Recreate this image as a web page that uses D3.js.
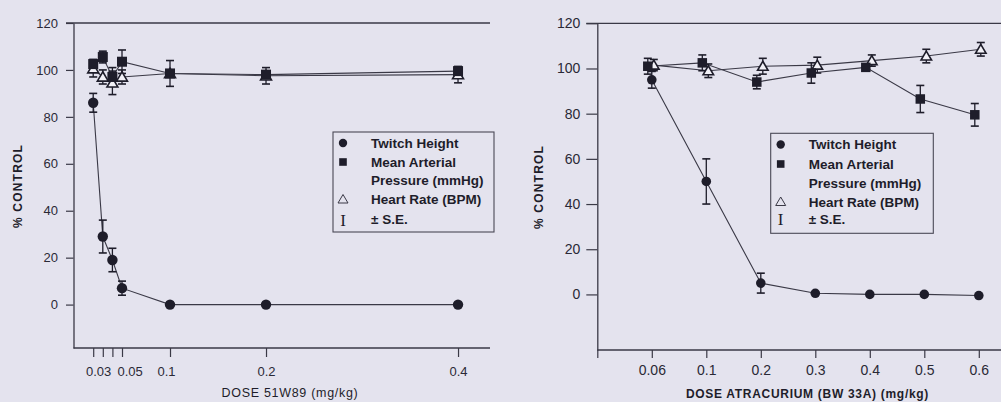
<!DOCTYPE html>
<html><head><meta charset="utf-8">
<script src="https://cdn.jsdelivr.net/npm/d3@7/dist/d3.min.js"></script>
<style>
html,body{margin:0;padding:0;background:#e4e3ee;}
svg{display:block;font-family:"Liberation Sans",Arial,sans-serif;}
</style></head>
<body>
<svg id="c" width="1001" height="402"></svg>
<script>
// ---------- data ----------
const yTicks = [0, 20, 40, 60, 80, 100, 120];

// left panel: 51W89
const dosesL = [0.02, 0.03, 0.04, 0.05, 0.1, 0.2, 0.4];
const twitchL = [86, 29, 19, 7, 0, 0, 0];
const twitchSeL = [4, 7, 5, 3, 0, 0, 0];
const mapL = [102.5, 105.5, 97, 103.5, 98.5, 98, 99.5];
const mapSeL = [2, 2.5, 4, 5, 1, 1, 1];
const hrL = [100.5, 97, 94.5, 97, 98.5, 97.5, 98];
const hrSeL = [3.5, 3, 5, 3, 5.5, 3.5, 3.5];
const xTicksL = [0.02, 0.03, 0.04, 0.05, 0.1, 0.2, 0.4];
const xLabelsL = ["", "0.03", "", "0.05", "0.1", "0.2", "0.4"];

// right panel: atracurium
const dosesR = ["0.06", "0.1", "0.2", "0.3", "0.4", "0.5", "0.6"];
const twitchR = [95, 50, 5, 0.5, 0, 0, -0.5];
const twitchSeR = [3.7, 10, 4.4, 0, 0, 0, 0];
const mapR = [101, 102.5, 94, 98, 100.5, 86.5, 79.5];
const mapSeR = [3.5, 3.5, 3, 4.5, 0, 6, 5];
const hrR = [101.5, 99, 101, 101.5, 103.5, 105.5, 108.5];
const hrSeR = [2.5, 3, 3.5, 3.5, 2.5, 3, 3];

const legendLabels = [["Twitch Height"], ["Mean Arterial", "Pressure (mmHg)"], ["Heart Rate (BPM)"], ["\u00B1 S.E."]];
const yTitle = "% CONTROL";
const xTitleL = "DOSE 51W89 (mg/kg)";
const xTitleR = "DOSE ATRACURIUM (BW 33A) (mg/kg)";

// ---------- drawing ----------
const ink = "#1e1d2a", lineCol = "#3a3946", bg = "#e4e3ee", triFill = "#f2f1f7";
const svg = d3.select("#c");
svg.append("rect").attr("width", 1001).attr("height", 402).attr("fill", bg);

function tri(g, x, y, s, sw) {
  g.append("path")
    .attr("d", `M${x},${y - s} L${x + s * 1.05},${y + s * 0.8} L${x - s * 1.05},${y + s * 0.8} Z`)
    .attr("fill", triFill).attr("stroke", ink).attr("stroke-width", sw);
}
function errBar(g, x, y0, y1, cap) {
  g.append("line").attr("x1", x).attr("x2", x).attr("y1", y0).attr("y2", y1).attr("stroke", ink).attr("stroke-width", 1.3);
  [y0, y1].forEach(yy => g.append("line").attr("x1", x - cap).attr("x2", x + cap).attr("y1", yy).attr("y2", yy).attr("stroke", ink).attr("stroke-width", 1.6));
}

function panel(opt) {
  const g = svg.append("g");
  const { x, y, xs, n, vals, ses, dx, axisX, topY, rightX, bottomY } = opt;

  // y axis
  const ya = g.append("g").attr("transform", `translate(${axisX},0)`)
    .call(d3.axisLeft(y).tickValues(yTicks).tickSizeInner(opt.yTick).tickSizeOuter(0).tickPadding(opt.yPad));
  ya.select(".domain").attr("stroke", lineCol).attr("stroke-width", 1.3);
  ya.selectAll(".tick line").attr("stroke", lineCol).attr("stroke-width", 1.2);
  ya.selectAll("text").attr("fill", "#2a2936").attr("font-size", opt.yFs + "px").attr("font-family", "Liberation Sans, Arial");
  // frame top line and bottom axis line
  g.append("line").attr("x1", axisX - opt.yTick).attr("x2", rightX).attr("y1", topY).attr("y2", topY).attr("stroke", lineCol).attr("stroke-width", 1.3);
  g.append("line").attr("x1", axisX).attr("x2", rightX).attr("y1", bottomY).attr("y2", bottomY).attr("stroke", lineCol).attr("stroke-width", 1.3);
  // x axis
  const xa = g.append("g").attr("transform", `translate(0,${bottomY})`).call(opt.xAxis);
  xa.select(".domain").remove();
  xa.selectAll(".tick line").attr("stroke", lineCol).attr("stroke-width", 1.2);
  xa.selectAll("text").attr("fill", "#2a2936").attr("font-size", opt.xFs + "px").attr("font-family", "Liberation Sans, Arial");
  if (opt.xLabelFix) opt.xLabelFix(xa);

  // series lines
  const keys = ["tw", "map", "hr"];
  keys.forEach(k => {
    const line = d3.line().x((d, i) => xs(i) + dx[k]).y(d => y(d));
    g.append("path").datum(vals[k]).attr("d", line).attr("fill", "none").attr("stroke", lineCol).attr("stroke-width", 1.1);
  });
  // error bars
  keys.forEach(k => {
    vals[k].forEach((v, i) => {
      const s = ses[k][i];
      if (s > 0) errBar(g, xs(i) + dx[k], y(v + s), y(v - s), opt.cap);
    });
  });
  // markers
  vals.hr.forEach((v, i) => tri(g, xs(i) + dx.hr, y(v), opt.tri, 1.6));
  vals.map.forEach((v, i) => g.append("rect").attr("x", xs(i) + dx.map - opt.sq / 2).attr("y", y(v) - opt.sq / 2)
    .attr("width", opt.sq).attr("height", opt.sq).attr("fill", ink));
  vals.tw.forEach((v, i) => g.append("circle").attr("cx", xs(i) + dx.tw).attr("cy", y(v)).attr("r", opt.r).attr("fill", ink));

  // legend
  const L = opt.legend;
  g.append("rect").attr("x", L.x).attr("y", L.y).attr("width", L.w).attr("height", L.h)
    .attr("fill", "none").attr("stroke", "#4a4956").attr("stroke-width", 1.1);
  const rows = L.rows;
  const sx = L.x + 10, tx = L.x + 38;
  g.append("circle").attr("cx", sx).attr("cy", rows[0]).attr("r", 4.2).attr("fill", ink);
  g.append("rect").attr("x", sx - 3.8).attr("y", rows[1] - 3.8).attr("width", 7.6).attr("height", 7.6).attr("fill", ink);
  g.append("path").attr("d", `M${sx},${rows[3] - 5} L${sx + 5},${rows[3] + 3.5} L${sx - 5},${rows[3] + 3.5} Z`)
    .attr("fill", "none").attr("stroke", "#3a3946").attr("stroke-width", 1);
  g.append("text").attr("x", sx).attr("y", rows[4]).attr("dy", "0.36em").attr("text-anchor", "middle")
    .attr("font-family", "Liberation Serif, Times New Roman, serif").attr("font-size", "17px").attr("fill", ink).text("I");
  const labRows = [[rows[0]], [rows[1], rows[2]], [rows[3]], [rows[4]]];
  legendLabels.forEach((lines, j) => {
    lines.forEach((t, m) => {
      g.append("text").attr("x", tx).attr("y", labRows[j][m]).attr("dy", "0.36em")
        .attr("font-size", "13.5px").attr("font-weight", "bold").attr("fill", ink).text(t);
    });
  });

  // titles
  g.append("text").attr("transform", `translate(${opt.yTitleX},${opt.yTitleY}) rotate(-90)`)
    .attr("text-anchor", "middle").attr("dy", "0.36em").attr("font-size", "12px").attr("font-weight", "bold")
    .attr("letter-spacing", "1.2px").attr("fill", ink).text(yTitle);
  g.append("text").attr("x", opt.xTitleX).attr("y", opt.xTitleY).attr("text-anchor", "middle")
    .attr("font-size", opt.xTitleFs + "px").attr("font-weight", opt.xTitleW).attr("letter-spacing", "0.7px")
    .attr("fill", ink).text(opt.xTitle);
}

// left panel scales
const xL = d3.scaleLinear().domain([0, 0.4333]).range([74, 490]);
const yL = d3.scaleLinear().domain([-18.5, 120]).range([348, 23]);
panel({
  x: xL, y: yL, xs: i => xL(dosesL[i]), n: dosesL.length,
  vals: { tw: twitchL, map: mapL, hr: hrL }, ses: { tw: twitchSeL, map: mapSeL, hr: hrSeL },
  dx: { tw: 0, map: 0, hr: 0 },
  axisX: 73.5, topY: 23, rightX: 490, bottomY: 348,
  yTick: 7.5, yPad: 8, yFs: 13, xFs: 13,
  xAxis: d3.axisBottom(xL).tickValues(xTicksL).tickSize(9).tickPadding(10)
    .tickFormat((d, i) => xLabelsL[i]),
  xLabelFix: xa => {
    xa.selectAll(".tick text").each(function (d) {
      if (d === 0.03) d3.select(this).attr("text-anchor", "end").attr("x", 8);
      if (d === 0.05) d3.select(this).attr("text-anchor", "start").attr("x", -5);
      if (d === 0.1) d3.select(this).attr("x", -4);
    });
  },
  cap: 4, r: 5.2, sq: 10, tri: 5.2,
  legend: { x: 333, y: 132, w: 161, h: 100, rows: [143, 162, 180.5, 199.5, 219.5] },
  yTitleX: 18, yTitleY: 186, xTitle: xTitleL, xTitleX: 290, xTitleY: 397, xTitleFs: 12.5, xTitleW: "normal"
});

// right panel scales
const xR = d3.scalePoint().domain([""].concat(dosesR)).range([597.3, 597.3 + 7 * 54.5]);
const yR = d3.scaleLinear().domain([-24.6, 120]).range([350, 23.3]);
panel({
  x: xR, y: yR, xs: i => xR(dosesR[i]), n: dosesR.length,
  vals: { tw: twitchR, map: mapR, hr: hrR }, ses: { tw: twitchSeR, map: mapSeR, hr: hrSeR },
  dx: { tw: 0, map: -4, hr: 2 },
  axisX: 597.3, topY: 23.3, rightX: 1001, bottomY: 350,
  yTick: 11, yPad: 6, yFs: 14, xFs: 14,
  xAxis: d3.axisBottom(xR).tickSize(8).tickPadding(7),
  cap: 4, r: 4.8, sq: 9.5, tri: 5,
  legend: { x: 770.7, y: 133.3, w: 162.6, h: 100, rows: [144.5, 164, 183, 202, 219] },
  yTitleX: 538.5, yTitleY: 187, xTitle: xTitleR, xTitleX: 807.5, xTitleY: 398, xTitleFs: 12, xTitleW: "bold"
});
</script>
</body></html>
